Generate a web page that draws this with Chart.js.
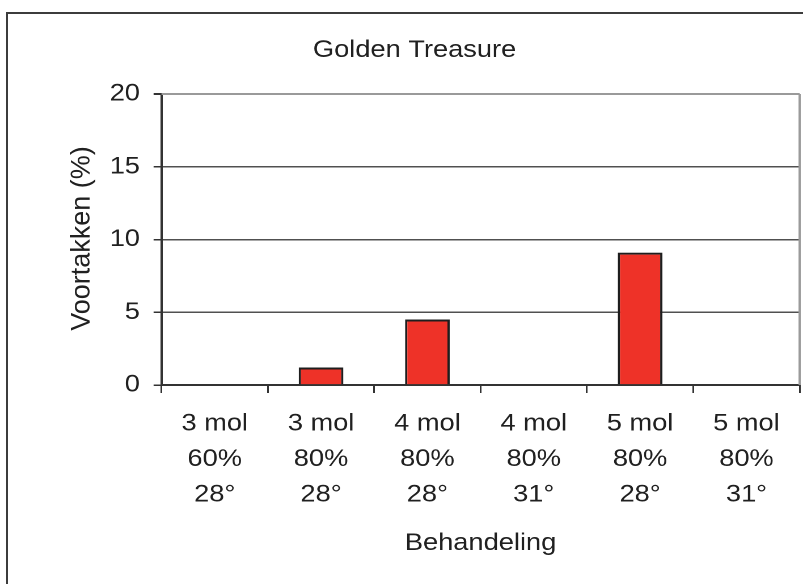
<!DOCTYPE html>
<html lang="nl">
<head>
<meta charset="utf-8">
<title>Golden Treasure</title>
<script src="https://cdn.jsdelivr.net/npm/chart.js@4.4.1/dist/chart.umd.min.js"></script>
<style>
  html, body { margin: 0; padding: 0; background: #ffffff; overflow: hidden; }
  body { width: 803px; height: 584px; position: relative; }
  #frame {
    position: absolute; left: 6px; top: 12px; width: 900px; height: 700px;
    border-left: 2px solid #3c3c3c; border-top: 2px solid #3c3c3c;
    box-sizing: border-box;
  }
  /* the chart is laid out on a narrower canvas and widened to the page */
  #wrap {
    position: absolute; left: 0; top: 0; width: 708px; height: 584px;
    transform: scaleX(1.1342); transform-origin: 0 0;
  }
</style>
</head>
<body>
<div id="frame"></div>
<div id="wrap"><canvas id="chart" width="708" height="584"></canvas></div>
<script>
// Treatments: concentration, relative humidity and temperature
const molLabels  = ['3 mol', '3 mol', '4 mol', '4 mol', '5 mol', '5 mol'];
const rhLabels   = ['60%', '80%', '80%', '80%', '80%', '80%'];
const tempLabels = ['28°', '28°', '28°', '31°', '28°', '31°'];

// Share of early shoots per treatment (%)
const voortakken = [0, 1.2, 4.5, 0, 9.1, 0];

// Value axis
const yMin = 0;
const yMax = 20;
const yStep = 5;

const chartTitle = 'Golden Treasure';
const yTitle = 'Voortakken (%)';
const xTitle = 'Behandeling';

const STRETCH = 803 / 708;
const FONT = "'Liberation Sans', Arial, Helvetica, sans-serif";
const TEXT = '#202020';

const categories = molLabels.map((m, i) => [m, rhLabels[i], tempLabels[i]]);

const decorations = {
  id: 'decorations',
  afterDatasetsDraw(chart) {
    const { ctx, chartArea: a } = chart;
    ctx.save();
    ctx.strokeStyle = '#9a9a9a';
    ctx.lineWidth = 2;
    ctx.beginPath();
    ctx.moveTo(a.left, a.top);
    ctx.lineTo(a.right, a.top);
    ctx.moveTo(a.right, a.top);
    ctx.lineTo(a.right, a.bottom);
    ctx.stroke();
    ctx.restore();
  },
  afterDraw(chart) {
    const { ctx } = chart;
    ctx.save();
    ctx.fillStyle = TEXT;
    ctx.font = '24px ' + FONT;
    ctx.textAlign = 'center';
    ctx.textBaseline = 'alphabetic';
    ctx.fillText(chartTitle, 365.5, 57);
    ctx.restore();

    // vertical axis title, drawn without the horizontal widening
    ctx.save();
    ctx.scale(1 / STRETCH, 1);
    ctx.translate(89.5, 238.5);
    ctx.rotate(-Math.PI / 2);
    ctx.fillStyle = TEXT;
    ctx.font = '27px ' + FONT;
    ctx.textAlign = 'center';
    ctx.textBaseline = 'alphabetic';
    ctx.fillText(yTitle, 0, 0);
    ctx.restore();
  }
};

new Chart(document.getElementById('chart'), {
  type: 'bar',
  data: {
    labels: categories,
    datasets: [{
      label: yTitle,
      data: voortakken,
      backgroundColor: '#ee3228',
      borderColor: '#1e1e1e',
      borderWidth: 2,
      categoryPercentage: 1,
      barPercentage: 0.42
    }]
  },
  options: {
    responsive: false,
    animation: false,
    devicePixelRatio: 2,
    layout: { padding: { left: 0, top: 94, right: 3, bottom: 0 } },
    plugins: {
      legend: { display: false },
      title: { display: false },
      tooltip: { enabled: false }
    },
    scales: {
      x: {
        offset: true,
        grid: {
          offset: true,
          drawOnChartArea: false,
          drawTicks: true,
          tickLength: 8,
          tickColor: '#333333',
          lineWidth: 1.5
        },
        border: { display: true, color: '#333333', width: 2 },
        ticks: {
          color: TEXT,
          padding: 13,
          maxRotation: 0,
          autoSkip: false,
          font: { family: FONT, size: 24, lineHeight: 1.48 }
        },
        title: {
          display: true,
          text: xTitle,
          color: TEXT,
          font: { family: FONT, size: 24, lineHeight: 1.2 },
          padding: { top: 0, bottom: 26 }
        },
        afterFit(scale) { scale.height = 199; }
      },
      y: {
        min: yMin,
        max: yMax,
        grid: {
          drawTicks: true,
          tickLength: 7,
          tickColor: '#333333',
          color: (c) => (c.tick && c.tick.value === yMax ? '#9a9a9a' : '#505050'),
          lineWidth: (c) => (c.tick && c.tick.value === yMax ? 2 : 1.5)
        },
        border: { display: true, color: '#333333', width: 2 },
        ticks: {
          stepSize: yStep,
          color: TEXT,
          padding: 12,
          font: { family: FONT, size: 24 }
        },
        afterFit(scale) { scale.width = 142.4; }
      }
    }
  },
  plugins: [decorations]
});
</script>
</body>
</html>
